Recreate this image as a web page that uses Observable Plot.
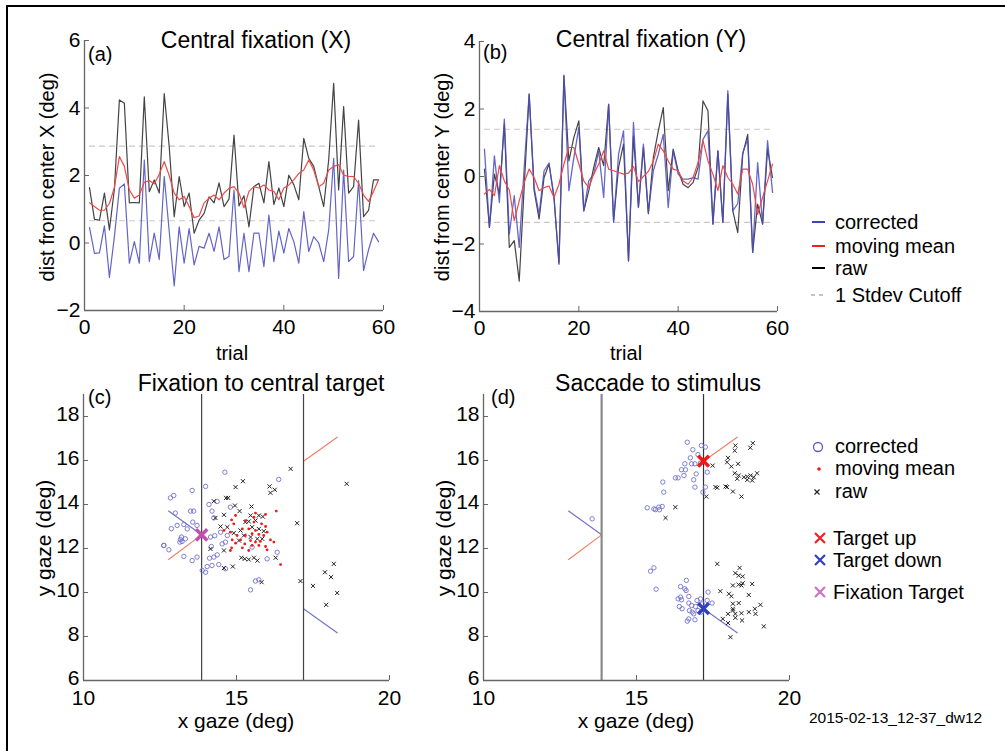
<!DOCTYPE html>
<html><head><meta charset="utf-8">
<script src="https://cdn.jsdelivr.net/npm/d3@7"></script>
<script src="https://cdn.jsdelivr.net/npm/@observablehq/plot@0.6"></script>
<style>
html,body{margin:0;padding:0;background:#fff;}
body{width:1005px;height:751px;overflow:hidden;position:relative;font-family:"Liberation Sans",Arial,Helvetica,sans-serif;}
.t{position:absolute;white-space:nowrap;color:#000;line-height:1;}
svg{overflow:visible;}
</style></head><body>
<div style="position:absolute;left:6px;top:5px;width:1200px;height:900px;border-left:2px solid #000;border-top:2px solid #000;"></div>
<script>
// ---------- DATA ----------
const aXTicks = [0, 20, 40, 60];
const aYTicks = [-2, 0, 2, 4, 6];
const bYTicks = [-4, -2, 0, 2, 4];
const cXTicks = [10, 15, 20];
const cYTicks = [6, 8, 10, 12, 14, 16, 18];

// panel (a): distance from center X, trials 1..59
const aRaw = [1.64,0.70,0.68,1.48,0.39,1.6,4.24,4.14,1.19,1.2,1.19,4.33,1.52,1.87,1.48,4.43,2.85,0.78,1.97,1.08,1.48,0.29,0.68,0.88,1.37,1.19,1.78,1.08,1.3,3.2,1.1,1.4,0.48,1.67,1.77,1.19,2.41,1.14,1.63,1.08,2.01,1.73,1.28,3.1,2.51,2.27,1.67,1.08,2.46,4.73,1.57,4.04,1.48,1.67,3.64,0.78,0.97,1.87,1.87];
const aCorrected = [0.46,-0.31,-0.29,0.51,-1.02,0.19,1.62,1.75,-0.6,0.04,-0.6,2.46,-0.55,0.29,-0.49,1.97,0.35,-1.27,0.48,-0.6,0.43,-0.65,-0.1,-0.15,0.29,-0.25,0.48,-0.49,-0.4,1.57,-0.85,0.29,-0.85,0.29,0.29,-0.7,0.83,-0.55,0.35,-0.3,0.43,0.04,-0.6,0.93,-0.25,0.19,0,-0.55,0.38,2.51,-1.05,2.16,-0.55,-0.4,1.85,-0.82,-0.2,0.29,0.04];
const aMean = [1.19,1.08,0.97,0.97,1.17,1.65,2.56,2.27,1.57,1.33,1.42,1.8,1.85,1.75,2.04,2.41,2.0,1.48,1.28,1.38,1.08,0.75,0.8,1.19,1.33,1.42,1.28,1.48,1.62,1.67,1.48,1.04,1.53,1.67,1.63,1.72,1.57,1.53,1.28,1.63,1.72,1.87,2.06,2.16,2.46,2.16,1.67,1.77,2.16,2.27,2.32,2.01,1.97,1.97,1.77,1.42,1.23,1.53,1.87];
const aCutoff = [2.87, 0.66];

// panel (b): distance from center Y
const bRaw = [0.22,-1.51,0.07,-0.52,1.55,-2.1,-1.9,-3.1,-0.3,2.44,-0.42,-1.26,-0.03,0.37,-0.62,-2.6,2.98,0.46,1.16,1.65,-1.02,-0.42,0.27,0.86,0.32,2.14,-1.31,0.27,0.96,-2.5,1.2,-0.9,0.86,-1.1,0.56,1.35,2.04,-0.42,0.81,0.17,-0.23,-0.33,-0.18,0.27,2.24,1.95,-1.41,0.76,-1.36,2.44,-1.02,-1.66,0.66,1.25,-2.25,-0.82,-1.41,0.81,-0.03];
const bCorrected = [0.81,-1.51,0.61,-0.77,1.70,-1.71,-0.57,-2.1,0.27,2.44,-0.33,-1.12,0.17,0.4,-0.62,-2.55,3.0,-0.42,0.56,1.45,-1.02,-0.13,0.07,0.76,-0.62,2.14,-1.36,0.66,1.35,-2.5,1.6,-0.92,0.96,-1.07,0.17,0.66,1.25,-0.92,0.76,0.07,-0.08,-0.08,-0.03,-0.08,1.1,1.35,-1.41,0.76,-1.36,2.54,-1.02,-0.8,0.7,1.1,-2.25,0.41,-1.41,1.06,-0.47];
const bMean = [-0.52,-0.38,-0.57,0.32,-0.13,-0.4,-1.31,-0.72,-0.18,0.22,-0.03,-0.42,-0.33,-0.28,-0.62,-0.23,0.37,0.86,0.86,0.37,-0.13,-0.33,0.07,0.37,0.76,0.22,0.17,0.12,0.07,0.1,0.3,-0.15,0.0,0.15,0.45,0.96,0.76,0.46,0.22,0.17,-0.13,-0.23,-0.03,0.41,1.06,0.46,0.07,-0.42,0.32,-0.03,-0.23,-0.52,0.22,0.22,-0.23,-1.12,-0.62,-0.13,0.37];
const bCutoff = [1.40, -1.36];

// targets & boundary lines (deg)
const boundaryX = [13.86, 17.19];
const fixationTarget = [[13.86, 12.62]];
const targetUp = [[17.19, 15.97]];
const targetDown = [[17.19, 9.27]];
const fixLineBlue = [[12.78, 13.7], [13.86, 12.62]];
const fixLineRed = [[12.78, 11.5], [13.86, 12.62]];
const upLineRed = [[17.19, 15.97], [18.29, 17.06]];
const downLineBlue = [[17.19, 9.26], [18.29, 8.17]];

// panel (c): fixation to central target
const cCorrected = [[14.62,15.47],[13.99,14.82],[13.55,14.64],[12.95,14.41],[12.84,14.30],[14.10,14.0],[14.37,14.14],[13.0,13.61],[13.5,13.7],[13.6,13.7],[14.2,13.7],[14.26,13.39],[13.57,13.2],[13.06,13.05],[13.28,13.09],[13.39,12.89],[13.71,13.05],[13.2,12.52],[13.17,12.41],[13.22,12.32],[13.33,12.44],[13.15,12.29],[12.63,12.14],[12.79,11.94],[14.15,12.52],[14.29,12.58],[14.48,12.74],[14.7,12.59],[14.64,12.29],[14.53,12.21],[14.18,12.09],[14.37,11.71],[14.26,11.61],[14.12,11.56],[13.71,11.61],[13.55,11.45],[13.28,11.64],[14.04,11.18],[14.2,11.23],[14.42,11.27],[13.88,11.0],[13.99,10.92],[14.64,11.08],[15.51,12.06],[16.0,11.53],[16.33,11.83],[15.62,10.52],[15.73,10.58],[15.46,10.12],[16.38,15.14],[14.8,13.88],[12.87,12.9],[12.62,12.14]];
const cMean = [[16.3,13.7],[15.62,13.61],[15.95,13.55],[14.97,13.5],[14.84,13.3],[14.91,13.12],[15.29,13.27],[15.57,13.2],[15.82,13.12],[15.95,13.0],[14.59,12.82],[14.8,12.74],[15.19,12.89],[15.4,12.89],[15.62,12.82],[16.0,12.74],[15.02,12.59],[15.29,12.59],[15.51,12.67],[15.73,12.64],[15.89,12.59],[16.11,12.39],[16.22,12.29],[14.86,12.39],[15.13,12.39],[15.46,12.36],[15.62,12.29],[15.78,12.32],[14.97,12.24],[15.27,12.21],[15.51,12.14],[15.73,12.14],[14.84,12.03],[14.8,11.91],[15.19,12.03],[15.4,11.91],[15.95,12.09],[16.44,11.27],[16.0,11.94],[15.57,13.42]];
const cRaw = [[16.77,15.62],[15.21,15.06],[14.97,14.79],[16.08,14.82],[16.25,14.67],[16.11,14.53],[14.66,14.3],[14.73,14.3],[14.26,14.15],[14.95,13.95],[15.49,13.91],[14.59,13.53],[15.1,13.7],[15.46,13.5],[15.73,13.5],[15.86,13.45],[14.31,13.39],[14.48,13.0],[14.7,12.97],[14.91,12.7],[15.13,12.82],[15.29,13.2],[15.4,13.23],[15.62,13.27],[15.73,12.89],[15.89,12.79],[15.24,12.59],[15.08,12.36],[15.46,12.52],[15.68,12.44],[15.84,12.44],[15.51,12.97],[14.59,11.91],[14.15,11.98],[14.88,11.18],[14.59,11.11],[15.16,11.58],[15.27,11.53],[15.4,11.5],[15.57,11.58],[15.68,11.45],[16.28,11.58],[15.82,10.47],[16.98,13.15],[18.6,14.94],[17.09,10.52],[17.5,10.3],[17.89,10.92],[18.18,11.3],[18.09,10.7],[18.29,9.98],[17.93,9.44]];

// panel (d): saccade to stimulus
const dCorrected = [[16.66,16.83],[17.12,16.68],[17.25,16.61],[16.84,16.49],[17.01,16.27],[16.76,16.12],[16.91,15.85],[17.09,15.88],[16.58,15.85],[16.8,15.85],[16.47,15.58],[16.6,15.58],[16.27,15.21],[16.36,15.21],[16.55,15.32],[16.87,15.12],[16.95,15.39],[16.91,14.79],[17.25,14.79],[15.86,15.02],[15.89,14.56],[17.17,14.56],[17.31,15.47],[15.35,13.85],[15.57,13.8],[15.62,13.77],[15.73,13.88],[15.75,13.76],[15.84,13.91],[13.55,13.35],[15.46,10.97],[15.57,11.12],[15.64,10.15],[16.63,10.55],[16.44,10.27],[16.58,10.17],[16.62,10.09],[16.71,9.82],[16.44,9.79],[16.36,9.71],[16.47,9.67],[16.4,9.36],[16.71,9.52],[16.98,9.64],[17.09,9.71],[17.34,10.02],[17.47,9.52],[16.8,9.41],[16.93,9.36],[16.73,9.18],[16.82,9.11],[16.87,9.03],[16.49,9.26],[16.71,8.8],[16.66,8.7],[16.91,8.76],[17.15,9.48],[17.12,9.11],[17.31,9.64],[17.01,9.18]];
const dRaw = [[18.23,16.68],[18.21,16.45],[18.72,16.58],[18.8,16.79],[17.99,16.12],[17.96,15.92],[17.49,15.77],[18.1,15.73],[18.32,15.85],[18.21,15.42],[18.34,15.32],[18.51,15.24],[18.62,15.27],[18.73,15.32],[18.83,15.24],[18.94,15.42],[18.62,15.12],[18.78,15.09],[18.29,15.17],[17.58,14.79],[17.64,14.76],[17.91,14.82],[17.96,14.79],[18.15,14.59],[18.43,14.36],[17.28,14.36],[16.27,13.88],[15.95,13.39],[17.64,11.3],[18.37,11.12],[18.23,10.88],[18.34,10.77],[18.47,10.73],[18.15,10.32],[18.34,10.36],[18.43,10.32],[18.47,10.42],[18.78,10.39],[17.74,10.06],[18.02,9.94],[18.1,9.83],[18.67,9.89],[18.15,9.49],[18.34,9.52],[18.15,9.26],[19.05,9.44],[18.87,9.26],[17.99,9.03],[18.15,9.18],[18.23,9.03],[18.43,9.06],[18.67,9.11],[18.89,9.03],[17.82,8.8],[17.99,8.61],[18.23,8.85],[18.45,8.73],[19.16,8.46],[18.07,7.97]];

// ---------- STYLE ----------
const FONT = '"Liberation Sans", Arial, Helvetica, sans-serif';
const AXIS = "#666";
const BLUE = "#6464c8";
const RED = "#f04848";
const BLACK = "#444";
const CUT = "#c8c8c8";

const rows = vals => vals.map((v, i) => ({t: i + 1, v}));

function panel({left, top, width, height, mL, mR, mT, mB, xDomain, yDomain, xTicks, yTicks, marks, xPad, yPad, yDy = 0, fontSize}) {
  const fw = width - mL - mR, fh = height - mT - mB;
  const p = Plot.plot({
    width, height, marginLeft: mL, marginRight: mR, marginTop: mT, marginBottom: mB,
    x: {domain: xDomain}, y: {domain: yDomain},
    style: {background: "transparent", fontFamily: FONT, fontSize: fontSize + "px", color: "#000", overflow: "visible"},
    marks: [
      ...marks,
      Plot.ruleX([xDomain[0]], {stroke: AXIS, strokeWidth: 1.3}),
      Plot.ruleY([yDomain[0]], {stroke: AXIS, strokeWidth: 1.3}),
      Plot.tickX(xTicks, {x: d => d, insetTop: fh - 5, stroke: AXIS}),
      Plot.tickY(yTicks, {y: d => d, insetRight: fw - 5, stroke: AXIS}),
      Plot.axisX(xTicks, {tickSize: 0, tickPadding: xPad, label: null}),
      Plot.axisY(yTicks, {tickSize: 0, tickPadding: yPad, label: null, dy: yDy})
    ]
  });
  p.style.position = "absolute";
  p.style.left = left + "px";
  p.style.top = top + "px";
  document.body.appendChild(p);
}

function text(txt, x, y, {size = 20, anchor = "middle", rotate = 0, color = "#000"} = {}) {
  const d = document.createElement("div");
  d.className = "t";
  d.textContent = txt;
  d.style.left = x + "px";
  d.style.top = y + "px";
  d.style.fontSize = size + "px";
  d.style.color = color;
  const tx = anchor === "middle" ? "-50%" : anchor === "end" ? "-100%" : "0";
  d.style.transform = `translate(${tx},-50%)` + (rotate ? ` rotate(${rotate}deg)` : "");
  document.body.appendChild(d);
}

// ---------- PANEL (a) ----------
panel({
  left: 0, top: 0, width: 400, height: 370, mL: 84, mR: 17, mT: 40, mB: 60,
  xDomain: [0, 60], yDomain: [-2, 6], xTicks: aXTicks, yTicks: aYTicks, xPad: 9, yPad: 4, fontSize: 21,
  marks: [
    Plot.ruleY(aCutoff, {y: d => d, x1: 1, x2: 59, stroke: CUT, strokeDasharray: "6,4", strokeWidth: 1.2}),
    Plot.line(rows(aRaw), {x: "t", y: "v", stroke: BLACK, strokeWidth: 1.2}),
    Plot.line(rows(aCorrected), {x: "t", y: "v", stroke: BLUE, strokeWidth: 1.2}),
    Plot.line(rows(aMean), {x: "t", y: "v", stroke: RED, strokeWidth: 1.2})
  ]
});

// ---------- PANEL (b) ----------
panel({
  left: 400, top: 0, width: 400, height: 370, mL: 79, mR: 23, mT: 41, mB: 59,
  xDomain: [0, 60], yDomain: [-4, 4], xTicks: aXTicks, yTicks: bYTicks, xPad: 9, yPad: 4, fontSize: 21,
  marks: [
    Plot.ruleY(bCutoff, {y: d => d, x1: 1, x2: 59, stroke: "#d0c4c4", strokeDasharray: "6,4", strokeWidth: 1.2}),
    Plot.line(rows(bRaw), {x: "t", y: "v", stroke: BLACK, strokeWidth: 1.2}),
    Plot.line(rows(bCorrected), {x: "t", y: "v", stroke: "#4c4cc0", strokeWidth: 1.3, strokeOpacity: 0.85}),
    Plot.line(rows(bMean), {x: "t", y: "v", stroke: RED, strokeWidth: 1.2})
  ]
});

// ---------- PANEL (c) ----------
const gazeMarks = (extra) => [
  Plot.line(fixLineBlue, {x: d => d[0], y: d => d[1], stroke: "#7474cc", strokeWidth: 1.2}),
  Plot.line(fixLineRed, {x: d => d[0], y: d => d[1], stroke: "#f08068", strokeWidth: 1.2}),
  Plot.line(upLineRed, {x: d => d[0], y: d => d[1], stroke: "#f08068", strokeWidth: 1.2}),
  Plot.line(downLineBlue, {x: d => d[0], y: d => d[1], stroke: "#7474cc", strokeWidth: 1.2}),
  ...extra
];

panel({
  left: 0, top: 370, width: 400, height: 381, mL: 83, mR: 11, mT: 24, mB: 71,
  xDomain: [10, 20], yDomain: [6, 19], xTicks: cXTicks, yTicks: cYTicks, xPad: 10, yPad: 4, yDy: -2, fontSize: 21,
  marks: gazeMarks([
    Plot.ruleX(boundaryX, {x: d => d, stroke: "#444", strokeWidth: 1.2}),
    Plot.dot(cCorrected, {x: d => d[0], y: d => d[1], r: 2.2, stroke: "#7070d0", strokeWidth: 0.9, fill: "none"}),
    Plot.dot(cRaw, {x: d => d[0], y: d => d[1], r: 2, symbol: "times", stroke: "#222", strokeWidth: 1}),
    Plot.dot(cMean, {x: d => d[0], y: d => d[1], r: 1.4, fill: "#f01818", stroke: "none"}),
    Plot.dot(fixationTarget, {x: d => d[0], y: d => d[1], r: 5.2, symbol: "times", stroke: "#c050b0", strokeWidth: 3.5})
  ])
});

// ---------- PANEL (d) ----------
panel({
  left: 400, top: 370, width: 400, height: 381, mL: 83, mR: 11, mT: 24, mB: 71,
  xDomain: [10, 20], yDomain: [6, 19], xTicks: cXTicks, yTicks: cYTicks, xPad: 10, yPad: 4, yDy: -2, fontSize: 21,
  marks: gazeMarks([
    Plot.ruleX([boundaryX[0]], {x: d => d, stroke: "#8a8a8a", strokeWidth: 2.2}),
    Plot.ruleX([boundaryX[1]], {x: d => d, stroke: "#333", strokeWidth: 1.2}),
    Plot.dot(dCorrected, {x: d => d[0], y: d => d[1], r: 2.2, stroke: "#7070d0", strokeWidth: 0.9, fill: "none"}),
    Plot.dot(dRaw, {x: d => d[0], y: d => d[1], r: 2, symbol: "times", stroke: "#222", strokeWidth: 1}),
    Plot.dot(targetUp, {x: d => d[0], y: d => d[1], r: 5, symbol: "times", stroke: "#f01818", strokeWidth: 3.5}),
    Plot.dot(targetDown, {x: d => d[0], y: d => d[1], r: 5, symbol: "times", stroke: "#3040c0", strokeWidth: 3.5})
  ])
});

// ---------- TEXT ----------
text("Central fixation (X)", 256, 40, {size: 23});
text("Central fixation (Y)", 651, 39, {size: 23});
text("Fixation to central target", 261, 383, {size: 23});
text("Saccade to stimulus", 658, 383, {size: 23});
text("(a)", 88, 54, {size: 20, anchor: "start"});
text("(b)", 483, 52, {size: 20, anchor: "start"});
text("(c)", 88, 397, {size: 20, anchor: "start"});
text("(d)", 491, 397, {size: 20, anchor: "start"});
text("trial", 232, 353, {size: 20});
text("trial", 626, 353, {size: 20});
text("dist from center X (deg)", 47, 177, {size: 20, rotate: -90});
text("dist from center Y (deg)", 442, 177, {size: 20, rotate: -90});
text("x gaze (deg)", 236, 720, {size: 21});
text("x gaze (deg)", 636, 720, {size: 21});
text("y gaze (deg)", 43, 538, {size: 21, rotate: -90});
text("y gaze (deg)", 443, 538, {size: 21, rotate: -90});

// ---------- LEGENDS ----------
const ns = "http://www.w3.org/2000/svg";
const lg = document.createElementNS(ns, "svg");
lg.setAttribute("width", 1005); lg.setAttribute("height", 751);
lg.style.position = "absolute"; lg.style.left = "0"; lg.style.top = "0";
document.body.appendChild(lg);
function el(tag, attrs) {
  const e = document.createElementNS(ns, tag);
  for (const k in attrs) e.setAttribute(k, attrs[k]);
  lg.appendChild(e);
  return e;
}
function cross(cx, cy, h, color, w) {
  el("path", {d: `M${cx - h},${cy - h}L${cx + h},${cy + h}M${cx - h},${cy + h}L${cx + h},${cy - h}`, stroke: color, "stroke-width": w, fill: "none"});
}
const legendTop = [
  {label: "corrected", y: 222, color: "#3b46b8", dash: null},
  {label: "moving mean", y: 246, color: "#f02020", dash: null},
  {label: "raw", y: 268, color: "#000", dash: null},
  {label: "1 Stdev Cutoff", y: 295, color: "#b0b0b0", dash: "4,4"}
];
legendTop.forEach(it => {
  const a = {x1: 812, x2: 825, y1: it.y, y2: it.y, stroke: it.color, "stroke-width": 2};
  if (it.dash) { a.x1 = 811; a.x2 = 827; a["stroke-dasharray"] = it.dash; a["stroke-width"] = 1.3; }
  el("line", a);
  text(it.label, 835, it.y, {size: 20, anchor: "start"});
});
el("circle", {cx: 818, cy: 447, r: 4.5, fill: "none", stroke: "#5a5ac8", "stroke-width": 1.3});
text("corrected", 835, 446, {size: 20, anchor: "start"});
el("circle", {cx: 819, cy: 469, r: 1.8, fill: "#f01818"});
text("moving mean", 835, 468, {size: 20, anchor: "start"});
cross(817, 492, 2.5, "#222", 1.2);
text("raw", 835, 491, {size: 20, anchor: "start"});
cross(820, 538, 5, "#f02020", 2.2);
text("Target up", 833, 538, {size: 20, anchor: "start"});
cross(820, 560, 5, "#3040c0", 2.2);
text("Target down", 833, 560, {size: 20, anchor: "start"});
cross(820, 592, 5, "#d070c0", 2.2);
text("Fixation Target", 833, 592, {size: 20, anchor: "start"});

text("2015-02-13_12-37_dw12", 809, 718, {size: 15.5, anchor: "start"});
</script>
</body></html>
